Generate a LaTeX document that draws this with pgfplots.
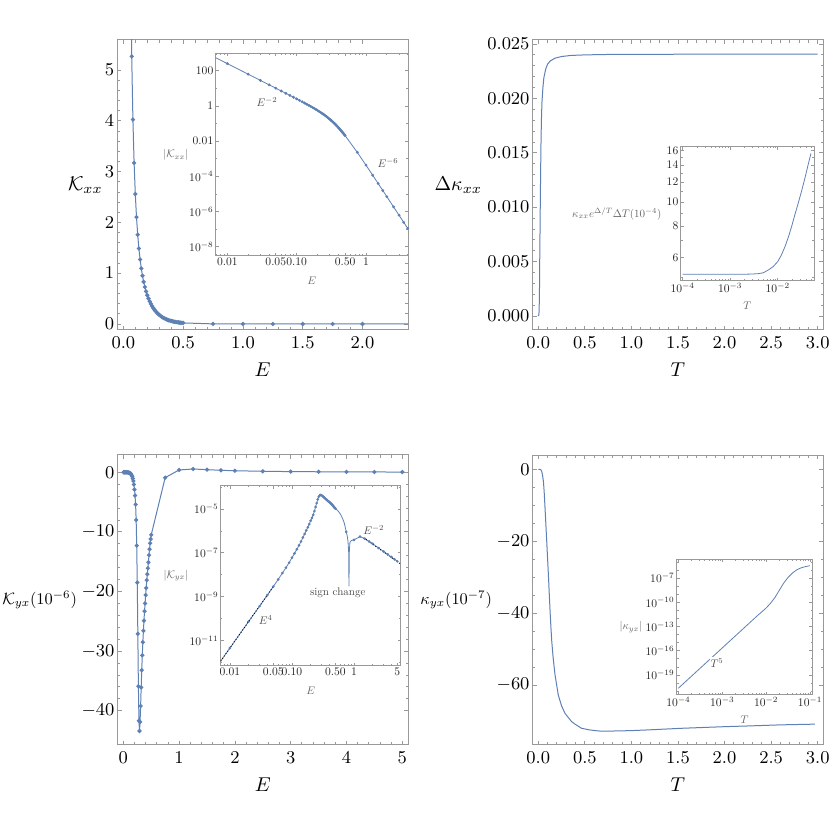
\documentclass[border=0pt]{standalone}
\usepackage{graphicx}
\usepackage{pgfplots}
\usepackage{pgfplotstable}
\pgfplotsset{compat=1.18}
\definecolor{mblue}{rgb}{0.368417,0.506779,0.709798}
\definecolor{fcol}{gray}{0.6}
\newcommand{\tl}[1]{\scalebox{0.58}{\fontsize{10}{12}\selectfont #1}}
\newcommand{\il}[1]{\scalebox{0.55}{\fontsize{10}{12}\selectfont #1}}

\pgfplotstableread{
E K
0.005 1036
0.01 259
0.02 64.75
0.03 28.77
0.04 16.18
0.05 10.35
0.06 7.18
0.07 5.267
0.08 4.024
0.09 3.170
0.10 2.558
0.11 2.104
0.12 1.757
0.13 1.486
0.14 1.270
0.15 1.094
0.16 0.950
0.17 0.829
0.18 0.728
0.19 0.641
0.20 0.566
0.21 0.502
0.22 0.446
0.23 0.397
0.24 0.353
0.25 0.315
0.26 0.281
0.27 0.251
0.28 0.224
0.29 0.2005
0.30 0.1793
0.31 0.1603
0.32 0.1434
0.33 0.1283
0.34 0.1148
0.35 0.1027
0.36 0.0920
0.37 0.0824
0.38 0.0738
0.39 0.0662
0.40 0.0594
0.41 0.0533
0.42 0.0479
0.43 0.0430
0.44 0.0387
0.45 0.0348
0.46 0.03137
0.47 0.02828
0.48 0.02553
0.49 0.02305
0.50 0.02084
0.75 0.002317
1.00 4.35e-4
1.25 1.162e-4
1.50 3.915e-5
1.75 1.559e-5
2.00 7.01e-6
2.50 1.839e-6
3.00 6.17e-7
3.50 2.446e-7
4.00 1.098e-7
}\dataA

\pgfplotstableread{
T D
0 0
0.007 0.0001
0.01 0.0008
0.013 0.0023
0.015 0.0045
0.018 0.0070
0.02 0.0088
0.025 0.0130
0.03 0.0163
0.035 0.0184
0.04 0.0197
0.05 0.0210
0.06 0.0219
0.08 0.0227
0.10 0.02315
0.13 0.02345
0.18 0.02370
0.25 0.02385
0.35 0.02395
0.5 0.02400
0.75 0.02404
1.0 0.02405
1.5 0.02406
2.0 0.02406
2.5 0.02406
3.0 0.02406
}\dataB

\pgfplotstableread{
T V
0.0001 5.15
0.0003 5.15
0.001 5.15
0.002 5.15
0.003 5.16
0.004 5.18
0.005 5.22
0.0064 5.36
0.008 5.52
0.01 5.78
0.012 6.15
0.01426 6.64
0.017 7.3
0.0197 8.0
0.023 8.9
0.0272 9.93
0.032 11.1
0.0376 12.5
0.043 13.9
0.05 15.6
}\dataBin

\pgfplotstableread{
E K
0.005 -2.9e-7
0.01 -4.6e-6
0.02 -7.4e-5
0.03 -3.7e-4
0.04 -1.18e-3
0.05 -2.9e-3
0.06 -6.2e-3
0.07 -0.012
0.08 -0.021
0.09 -0.036
0.10 -0.060
0.11 -0.095
0.12 -0.145
0.13 -0.22
0.14 -0.33
0.15 -0.50
0.16 -0.73
0.17 -1.05
0.18 -1.46
0.19 -2.05
0.20 -2.9
0.21 -3.9
0.22 -5.4
0.23 -8.0
0.24 -12.3
0.25 -18.5
0.26 -27.1
0.27 -35.9
0.28 -41.7
0.29 -43.4
0.30 -41.9
0.31 -39.2
0.32 -36.1
0.33 -33.2
0.34 -30.7
0.35 -28.5
0.36 -26.6
0.37 -24.9
0.38 -23.3
0.39 -22.0
0.40 -20.6
0.41 -19.4
0.42 -18.1
0.43 -17.1
0.44 -16.1
0.45 -15.1
0.46 -13.9
0.47 -12.9
0.48 -11.9
0.49 -11.2
0.50 -10.5
0.75 -0.9
1.00 0.39
1.25 0.55
1.50 0.44
1.75 0.33
2.00 0.26
2.50 0.165
3.00 0.115
3.50 0.085
4.00 0.065
4.50 0.051
5.00 0.041
}\dataC

\pgfplotstableread{
E K
0.005 2.9e-7
0.01 4.6e-6
0.02 7.4e-5
0.03 3.7e-4
0.04 1.18e-3
0.05 2.9e-3
0.06 6.2e-3
0.07 0.012
0.08 0.021
0.09 0.036
0.10 0.060
0.11 0.095
0.12 0.145
0.13 0.22
0.14 0.33
0.15 0.50
0.16 0.73
0.17 1.05
0.18 1.46
0.19 2.05
0.20 2.9
0.21 3.9
0.22 5.4
0.23 8.0
0.24 12.3
0.25 18.5
0.26 27.1
0.27 35.9
0.28 41.7
0.29 43.4
0.30 41.9
0.31 39.2
0.32 36.1
0.33 33.2
0.34 30.7
0.35 28.5
0.36 26.6
0.37 24.9
0.38 23.3
0.39 22.0
0.40 20.6
0.41 19.4
0.42 18.1
0.43 17.1
0.44 16.1
0.45 15.1
0.46 13.9
0.47 12.9
0.48 11.9
0.49 11.2
0.50 10.5
0.55 8.3
0.60 6.0
0.65 3.9
0.70 2.2
0.75 0.9
0.78 0.57
0.80 0.34
0.82 0.11
0.83 0.003
0.84 0.11
0.86 0.30
0.90 0.36
0.95 0.38
1.00 0.39
1.25 0.55
1.50 0.44
1.75 0.33
2.00 0.26
2.50 0.165
3.00 0.115
3.50 0.085
4.00 0.065
4.50 0.051
5.00 0.041
}\dataCdense

\pgfplotstableread{
T K
0 0
0.01 0
0.02 -0.02
0.03 -0.2
0.0376 -0.65
0.045 -1.5
0.0555 -3.4
0.064 -6.5
0.073 -10.9
0.082 -15.5
0.091 -20.1
0.1 -24.8
0.109 -29.4
0.118 -34.6
0.127 -39.6
0.136 -44.0
0.145 -47.9
0.16 -52.5
0.18 -57.2
0.215 -62.8
0.25 -65.8
0.287 -67.9
0.358 -70.2
0.4 -71.0
0.465 -72.05
0.55 -72.5
0.644 -72.8
0.75 -72.85
0.823 -72.8
1.0 -72.7
1.18 -72.5
1.54 -72.05
2.0 -71.6
2.257 -71.4
2.6 -71.1
2.97 -70.9
}\dataD

\pgfplotstableread{
T K
0.0001 2.24e-21
0.0003162 7.08e-19
0.001 2.24e-16
0.003162 7.08e-14
0.00631 2.24e-12
0.01 2.0e-11
0.01259 7.94e-11
0.01585 3.98e-10
0.01995 3.16e-9
0.02512 2.51e-8
0.03162 1.26e-7
0.03981 4.47e-7
0.05012 1.12e-6
0.0631 2.0e-6
0.07943 2.82e-6
0.1 3.63e-6
}\dataDin

\pgfplotsset{
  base/.style={scale only axis, axis line style={fcol, line width=0.5pt},
    every tick/.style={fcol, line width=0.4pt}, tick align=inside,
    scaled ticks=false, axis background/.style={fill=white},
    every axis y label/.style={at={(rel axis cs:0,0.5)},anchor=east, inner sep=0pt},
    every axis x label/.style={at={(rel axis cs:0.5,0)},anchor=north, inner sep=0pt}},
  mainax/.style={base, width=145.5pt, height=145pt, anchor=south west,
    major tick length=2.2pt, minor tick length=1.3pt,
    tick label style={font=\fontsize{9.5}{11}\selectfont},
    yticklabel style={inner sep=1.2pt},
    label style={font=\fontsize{10}{12}\selectfont},
    xlabel style={yshift=-16pt}},
  insetax/.style={base, anchor=south west,
    major tick length=1.6pt, minor tick length=0.9pt,
    tick label style={text=black!85, inner sep=1pt},
    label style={text=black!60, fill=white, inner sep=0.5pt},
    xlabel style={yshift=-10pt}},
  ln/.style={color=mblue, line width=0.5pt},
}
\tikzset{anno/.style={text=black!70, inner sep=0.5pt, fill=white}}

\begin{document}
\begin{tikzpicture}
\path[use as bounding box] (0,0) rectangle (415pt,415pt);

% ---------- Panel 1 ----------
\begin{axis}[mainax, at={(58.5pt,250pt)},
  xmin=-0.053, xmax=2.38, ymin=-0.118, ymax=5.59,
  xtick={0,0.5,1,1.5,2}, ytick={0,1,2,3,4,5},
  minor x tick num=4, minor y tick num=4,
  xticklabel style={/pgf/number format/.cd,fixed,fixed zerofill,precision=1},
  xlabel={$E$}, ylabel={$\mathcal{K}_{xx}$}, ylabel style={xshift=-7pt}]
\addplot[ln, mark=*, mark size=0.8pt, mark options={fill=mblue, draw=mblue},
  restrict y to domain=-1:100] table[x=E,y=K] {\dataA};
\end{axis}
\begin{axis}[insetax, at={(107.85pt,287pt)}, width=96.15pt, height=101.35pt,
  xmode=log, ymode=log,
  xmin=0.0068, xmax=4.04, ymin=2.95e-9, ymax=1000,
  xtick={0.01,0.05,0.1,0.5,1}, xticklabels={\tl{$0.01$},\tl{$0.05$},\tl{$0.10$},\tl{$0.50$},\tl{$1$}},
  minor xtick={0.007,0.008,0.009,0.02,0.03,0.04,0.06,0.07,0.08,0.09,0.2,0.3,0.4,0.6,0.7,0.8,0.9,2,3,4},
  ytick={1e-8,1e-6,1e-4,1e-2,1,100},
  yticklabels={\tl{$10^{-8}$},\tl{$10^{-6}$},\tl{$10^{-4}$},\tl{$0.01$},\tl{$1$},\tl{$100$}},
  minor ytick={1e-7,1e-5,1e-3,0.1,10},
  xlabel={\il{$E$}}, ylabel={\il{$|\mathcal{K}_{xx}|$}}, ylabel style={xshift=-13pt}]
\addplot[ln, line width=0.4pt, mark=*, mark size=0.5pt, mark options={fill=mblue, draw=mblue}] table[x=E,y=K] {\dataA};
\node[anno, fill=none] at (axis cs:0.0374,1.69) {\il{$E^{-2}$}};
\node[anno, fill=none] at (axis cs:2.08,5.8e-4) {\il{$E^{-6}$}};
\end{axis}

% ---------- Panel 2 ----------
\begin{axis}[mainax, at={(266.15pt,250pt)},
  xmin=-0.064, xmax=3.06, ymin=-0.00129, ymax=0.02537,
  xtick={0,0.5,1,1.5,2,2.5,3}, ytick={0,0.005,0.01,0.015,0.02,0.025},
  minor x tick num=4, minor y tick num=4,
  xticklabel style={/pgf/number format/.cd,fixed,fixed zerofill,precision=1},
  yticklabel style={/pgf/number format/.cd,fixed,fixed zerofill,precision=3},
  xlabel={$T$}, ylabel={$\Delta\kappa_{xx}$}, ylabel style={xshift=-25pt}]
\addplot[ln] table[x=T,y=D] {\dataB};
\end{axis}
\begin{axis}[insetax, at={(340.35pt,274.5pt)}, width=66.65pt, height=67.15pt,
  xmode=log, ymode=log,
  xmin=9.12e-5, xmax=0.058, ymin=4.84, ymax=16.6,
  xtick={1e-4,1e-3,1e-2}, xticklabels={\tl{$10^{-4}$},\tl{$10^{-3}$},\tl{$10^{-2}$}},
  minor xtick={2e-4,3e-4,4e-4,5e-4,6e-4,7e-4,8e-4,9e-4,2e-3,3e-3,4e-3,5e-3,6e-3,7e-3,8e-3,9e-3,2e-2,3e-2,4e-2,5e-2},
  ytick={6,8,10,12,14,16}, yticklabels={\tl{$6$},\tl{$8$},\tl{$10$},\tl{$12$},\tl{$14$},\tl{$16$}},
  minor ytick={5,7,9,11,13,15},
  xlabel={\il{$T$}}, ylabel={\il{$\kappa_{xx}e^{\Delta/T}\Delta T(10^{-4})$}}, ylabel style={xshift=-9pt}]
\addplot[ln, line width=0.4pt] table[x=T,y=V] {\dataBin};
\end{axis}

% ---------- Panel 3 ----------
\begin{axis}[mainax, at={(58.65pt,42.5pt)},
  xmin=-0.108, xmax=5.108, ymin=-45.75, ymax=2.9,
  xtick={0,1,2,3,4,5}, ytick={-40,-30,-20,-10,0},
  minor x tick num=4, minor y tick num=4,
  xlabel={$E$}, ylabel={\scalebox{0.82}{$\mathcal{K}_{yx}(10^{-6})$}},
  ylabel style={xshift=-20pt}]
\addplot[ln, mark=*, mark size=0.8pt, mark options={fill=mblue, draw=mblue}] table[x=E,y=K] {\dataC};
\end{axis}
\begin{axis}[insetax, at={(110.35pt,82.15pt)}, width=90pt, height=90pt,
  xmode=log, ymode=log,
  xmin=0.0071, xmax=5.66, ymin=7.2e-13, ymax=1.15e-4,
  xtick={0.01,0.05,0.1,0.5,1,5}, xticklabels={\tl{$0.01$},\tl{$0.05$},\tl{$0.10$},\tl{$0.50$},\tl{$1$},\tl{$5$}},
  minor xtick={0.008,0.009,0.02,0.03,0.04,0.06,0.07,0.08,0.09,0.2,0.3,0.4,0.6,0.7,0.8,0.9,2,3,4},
  ytick={1e-11,1e-9,1e-7,1e-5}, yticklabels={\tl{$10^{-11}$},\tl{$10^{-9}$},\tl{$10^{-7}$},\tl{$10^{-5}$}},
  minor ytick={1e-12,1e-10,1e-8,1e-6,1e-4},
  xlabel={\il{$E$}}, ylabel={\il{$|\mathcal{K}_{yx}|$}}, ylabel style={xshift=-15.5pt}]
\addplot[ln, line width=0.4pt] table[x=E, y expr={abs(\thisrow{K})*1e-6}] {\dataCdense};
\addplot[only marks, mark=*, mark size=0.45pt, mark options={fill=mblue, draw=mblue}] table[x=E, y expr={abs(\thisrow{K})*1e-6}] {\dataC};
\addplot[black, densely dotted, line width=0.45pt] coordinates {(0.0071,1.17e-12) (0.05,2.88e-9)};
\addplot[black, densely dotted, line width=0.45pt] coordinates {(1.43,4.84e-7) (5.66,3.09e-8)};
\node[anno] at (axis cs:0.0379,8.7e-11) {\il{$E^{4}$}};
\node[anno] at (axis cs:0.547,1.47e-9) {\il{sign change}};
\node[anno, fill=none] at (axis cs:2.08,1.1e-6) {\il{$E^{-2}$}};
\end{axis}

% ---------- Panel 4 ----------
\begin{axis}[mainax, at={(266.15pt,42.5pt)},
  xmin=-0.064, xmax=3.06, ymin=-76.7, ymax=3.98,
  xtick={0,0.5,1,1.5,2,2.5,3}, ytick={-60,-40,-20,0},
  minor x tick num=4, minor y tick num=3,
  xticklabel style={/pgf/number format/.cd,fixed,fixed zerofill,precision=1},
  xlabel={$T$}, ylabel={\scalebox{0.82}{$\kappa_{yx}(10^{-7})$}},
  ylabel style={xshift=-20pt}]
\addplot[ln] table[x=T,y=K] {\dataD};
\end{axis}
\begin{axis}[insetax, at={(338.35pt,67.5pt)}, width=67.8pt, height=67.85pt,
  xmode=log, ymode=log,
  xmin=9.2e-5, xmax=0.1127, ymin=3.3e-22, ymax=2.24e-5,
  xtick={1e-4,1e-3,1e-2,1e-1}, xticklabels={\tl{$10^{-4}$},\tl{$10^{-3}$},\tl{$10^{-2}$},\tl{$10^{-1}$}},
  minor xtick={2e-4,3e-4,4e-4,5e-4,6e-4,7e-4,8e-4,9e-4,2e-3,3e-3,4e-3,5e-3,6e-3,7e-3,8e-3,9e-3,2e-2,3e-2,4e-2,5e-2,6e-2,7e-2,8e-2,9e-2},
  ytick={1e-19,1e-16,1e-13,1e-10,1e-7}, yticklabels={\tl{$10^{-19}$},\tl{$10^{-16}$},\tl{$10^{-13}$},\tl{$10^{-10}$},\tl{$10^{-7}$}},
  minor ytick={1e-21,1e-20,1e-18,1e-17,1e-15,1e-14,1e-12,1e-11,1e-9,1e-8,1e-6,1e-5},
  xlabel={\il{$T$}}, ylabel={\il{$|\kappa_{yx}|$}}, ylabel style={xshift=-16.5pt}]
\addplot[ln, line width=0.4pt] table[x=T,y=K] {\dataDin};
\node[anno] at (axis cs:7.6e-4,3.2e-18) {\il{$T^{5}$}};
\end{axis}
\end{tikzpicture}
\end{document}
